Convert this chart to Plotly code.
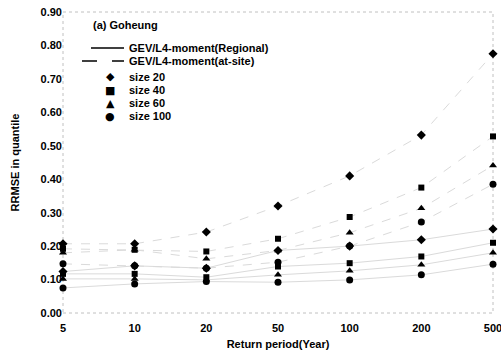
import plotly.graph_objects as go

# ---- data ----
return_periods = ["5", "10", "20", "50", "100", "200", "500"]
sample_sizes = ["size 20", "size 40", "size 60", "size 100"]
method_names = ["GEV/L4-moment(Regional)", "GEV/L4-moment(at-site)"]
panel_title = "(a) Goheung"

regional_20 = [0.124, 0.141, 0.134, 0.187, 0.200, 0.219, 0.251]
regional_40 = [0.117, 0.117, 0.107, 0.139, 0.149, 0.169, 0.210]
regional_60 = [0.102, 0.102, 0.099, 0.114, 0.126, 0.144, 0.180]
regional_100 = [0.075, 0.087, 0.094, 0.092, 0.099, 0.114, 0.146]

at_site_20 = [0.207, 0.207, 0.242, 0.320, 0.410, 0.532, 0.775]
at_site_40 = [0.192, 0.189, 0.184, 0.222, 0.287, 0.375, 0.528]
at_site_60 = [0.180, 0.189, 0.162, 0.187, 0.240, 0.313, 0.441]
at_site_100 = [0.147, 0.141, 0.134, 0.152, 0.200, 0.272, 0.385]

y_ticks = [0.0, 0.1, 0.2, 0.3, 0.4, 0.5, 0.6, 0.7, 0.8, 0.9]

regional = [regional_20, regional_40, regional_60, regional_100]
at_site = [at_site_20, at_site_40, at_site_60, at_site_100]
symbols = ["diamond", "square", "triangle-up", "circle"]
glyphs = ["\u25c6", "\u25a0", "\u25b2", "\u25cf"]
msizes = [7, 6, 7, 7]

FONT = "Liberation Sans, Arial, sans-serif"
TXT = dict(family=FONT, size=11, color="black", weight="bold")
L, R, T, B, W, H = 63, 8, 12, 40, 501, 353
PW, PH = W - L - R, H - T - B


def px(xp):
    return (xp - L) / PW


def py(yp):
    return (H - B - yp) / PH


fig = go.Figure()

# data traces (faded connecting lines, black markers)
for lab, vals, sym, ms in zip(sample_sizes, at_site, symbols, msizes):
    fig.add_trace(go.Scatter(
        x=return_periods, y=vals, mode="lines+markers",
        name=method_names[1] + " " + lab,
        line=dict(color="#dadada", width=1, dash="dash"),
        marker=dict(symbol=sym, size=ms, color="black"),
        showlegend=False, cliponaxis=False))
for lab, vals, sym, ms in zip(sample_sizes, regional, symbols, msizes):
    fig.add_trace(go.Scatter(
        x=return_periods, y=vals, mode="lines+markers",
        name=method_names[0] + " " + lab,
        line=dict(color="#dadada", width=1),
        marker=dict(symbol=sym, size=ms, color="black"),
        showlegend=False, cliponaxis=False))

fig.update_layout(
    width=W, height=H,
    margin=dict(l=L, r=R, t=T, b=B),
    paper_bgcolor="white", plot_bgcolor="rgba(0,0,0,0)",
    font=TXT,
    showlegend=False,
)
fig.update_xaxes(type="category", range=[0, 6], showgrid=False,
                 showline=False, zeroline=False, ticks="", automargin=False,
                 ticklabelstandoff=7, tickfont=TXT,
                 title=dict(text="Return period(Year)", standoff=7, font=TXT))
fig.update_yaxes(range=[0, 0.9], tickvals=y_ticks, tickformat=".2f",
                 showgrid=False, showline=False, zeroline=False, ticks="",
                 automargin=False, ticklabelstandoff=0, tickfont=TXT,
                 title=dict(text="RRMSE in quantile", standoff=18, font=TXT))
# faint dotted frame (the scanned axes are mostly faded)
fig.add_shape(type="rect", xref="paper", yref="paper", x0=0, x1=1, y0=0, y1=1,
              line=dict(color="#c0c0c0", width=1, dash="dot"), layer="below")

# ---- in-plot key (compact, as in the original figure) ----
fig.add_annotation(text=panel_title, xref="paper", yref="paper",
                   x=px(91), y=py(25), xanchor="left", yanchor="middle",
                   showarrow=False, font=TXT)
key_rows = [48, 61, 77, 90, 103, 116]
key_text_x = 127
# line keys
fig.add_shape(type="line", xref="paper", yref="paper",
              x0=px(91), x1=px(124), y0=py(key_rows[0]), y1=py(key_rows[0]),
              line=dict(color="black", width=1.5))
fig.add_shape(type="line", xref="paper", yref="paper",
              x0=px(82), x1=px(124), y0=py(key_rows[1]), y1=py(key_rows[1]),
              line=dict(color="black", width=1.5, dash="longdash"))
for name, row in zip(method_names, key_rows[:2]):
    fig.add_annotation(text=name, xref="paper", yref="paper",
                       x=px(key_text_x), y=py(row), xanchor="left",
                       yanchor="middle", showarrow=False, font=TXT)
# marker keys
for lab, g, row in zip(sample_sizes, glyphs, key_rows[2:]):
    fig.add_annotation(text=g, xref="paper", yref="paper",
                       x=px(110), y=py(row), xanchor="center",
                       yanchor="middle", showarrow=False,
                       font=dict(family="DejaVu Sans", size=11, color="black"))
    fig.add_annotation(text=lab, xref="paper", yref="paper",
                       x=px(key_text_x), y=py(row), xanchor="left",
                       yanchor="middle", showarrow=False, font=TXT)

# remove the browser's default 8px page margin so the figure fills the window
fig.write_html("out.html", config={"displayModeBar": False},
               post_script="document.body.style.margin='0';"
                           "document.body.style.overflow='hidden';")
